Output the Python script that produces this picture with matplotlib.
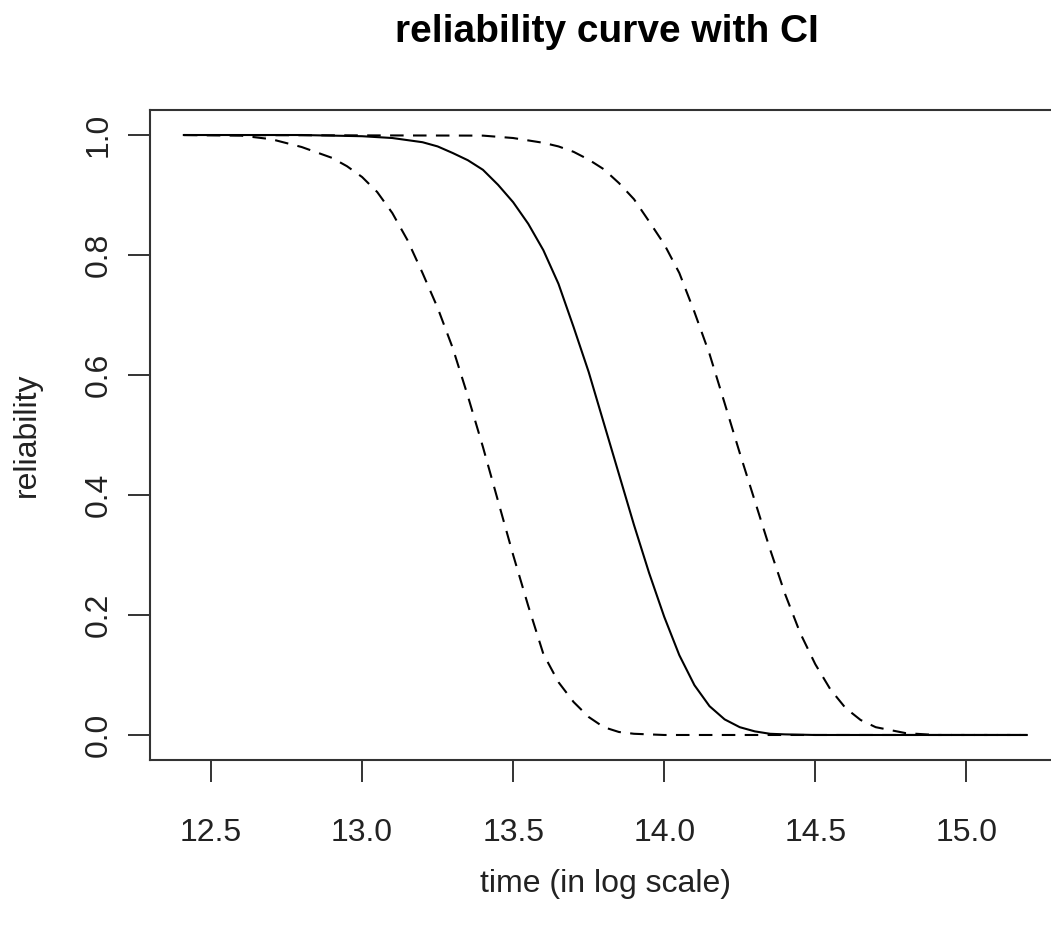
import matplotlib
matplotlib.use("Agg")
import matplotlib.pyplot as plt
from matplotlib import font_manager

# ---- data ----
t_est = [12.41, 12.8, 13.0, 13.1, 13.2, 13.25, 13.3, 13.35, 13.4, 13.45, 13.5, 13.55,
         13.6, 13.65, 13.7, 13.75, 13.8, 13.85, 13.9, 13.95, 14.0, 14.05, 14.1,
         14.15, 14.2, 14.25, 14.3, 14.35, 14.4, 14.5, 15.2]
r_est = [1.0, 1.0, 0.998, 0.995, 0.988, 0.981, 0.970, 0.958, 0.942, 0.917, 0.888, 0.852,
         0.808, 0.752, 0.68, 0.605, 0.52, 0.435, 0.35, 0.27, 0.197, 0.133, 0.083,
         0.048, 0.026, 0.013, 0.006, 0.002, 0.001, 0.0, 0.0]

t_low = [12.41, 12.6, 12.7, 12.8, 12.9, 12.95, 13.0, 13.05, 13.1, 13.15, 13.2, 13.25,
         13.3, 13.35, 13.4, 13.45, 13.5, 13.55, 13.6, 13.65, 13.7, 13.75, 13.8,
         13.85, 13.9, 14.0, 15.2]
r_low = [1.0, 0.999, 0.993, 0.98, 0.962, 0.948, 0.93, 0.905, 0.87, 0.825, 0.77, 0.712,
         0.645, 0.565, 0.48, 0.39, 0.30, 0.215, 0.135, 0.088, 0.055, 0.03, 0.013,
         0.005, 0.002, 0.0, 0.0]

t_up = [12.41, 13.4, 13.5, 13.6, 13.65, 13.7, 13.75, 13.8, 13.85, 13.9, 13.95, 14.0,
        14.05, 14.1, 14.15, 14.2, 14.25, 14.3, 14.35, 14.4, 14.45, 14.5, 14.55,
        14.6, 14.65, 14.7, 14.8, 14.9, 15.2]
r_up = [1.0, 0.999, 0.995, 0.987, 0.981, 0.972, 0.959, 0.943, 0.92, 0.893, 0.856, 0.818,
        0.77, 0.705, 0.635, 0.553, 0.47, 0.39, 0.31, 0.235, 0.17, 0.118, 0.076,
        0.045, 0.025, 0.013, 0.003, 0.0, 0.0]

x_ticks = [12.5, 13.0, 13.5, 14.0, 14.5, 15.0]
y_ticks = [0.0, 0.2, 0.4, 0.6, 0.8, 1.0]

# ---- fonts ----
avail = {f.name for f in font_manager.fontManager.ttflist}
if "Liberation Sans Narrow" in avail:
    fam, fs, tfs = "Liberation Sans Narrow", 26, 31
else:
    fam, fs, tfs = "Liberation Sans", 23, 28
plt.rcParams['font.family'] = [fam, 'DejaVu Sans']

fig = plt.figure(figsize=(10.51, 9.43), dpi=100)
ax = fig.add_axes([150/1051, 183/943, 910/1051, 650/943])

ax.plot(t_est, r_est, color='black', lw=1.5, solid_joinstyle='round')
for t, r in [(t_low, r_low), (t_up, r_up)]:
    ln, = ax.plot(t, r, color='black', lw=1.5)
    ln.set_dashes([6.5, 4.5])

ax.set_xlim(12.298, 15.31)
ax.set_ylim(-0.0417, 1.0417)

ax.set_xticks(x_ticks)
ax.set_xticklabels([f"{v:.1f}" for v in x_ticks])
ax.set_yticks(y_ticks)
ax.set_yticklabels([f"{v:.1f}" for v in y_ticks], rotation=90, va='center')

ax.tick_params(axis='both', direction='out', length=16, width=1.4, colors='#333333',
               labelsize=fs, labelcolor='#222222')
ax.tick_params(axis='x', pad=26)
ax.tick_params(axis='y', pad=10)

for s in ax.spines.values():
    s.set_color('#333333')
    s.set_linewidth(1.5)

ax.set_xlabel("time (in log scale)", fontsize=fs, color='#222222', labelpad=15)
ax.set_ylabel("reliability", fontsize=fs, color='#222222', labelpad=30)
fig.text(0.577, 0.985, "reliability curve with CI", fontsize=tfs, fontweight='bold',
         ha='center', va='top', color='black')

fig.savefig("out.png", dpi=100)
